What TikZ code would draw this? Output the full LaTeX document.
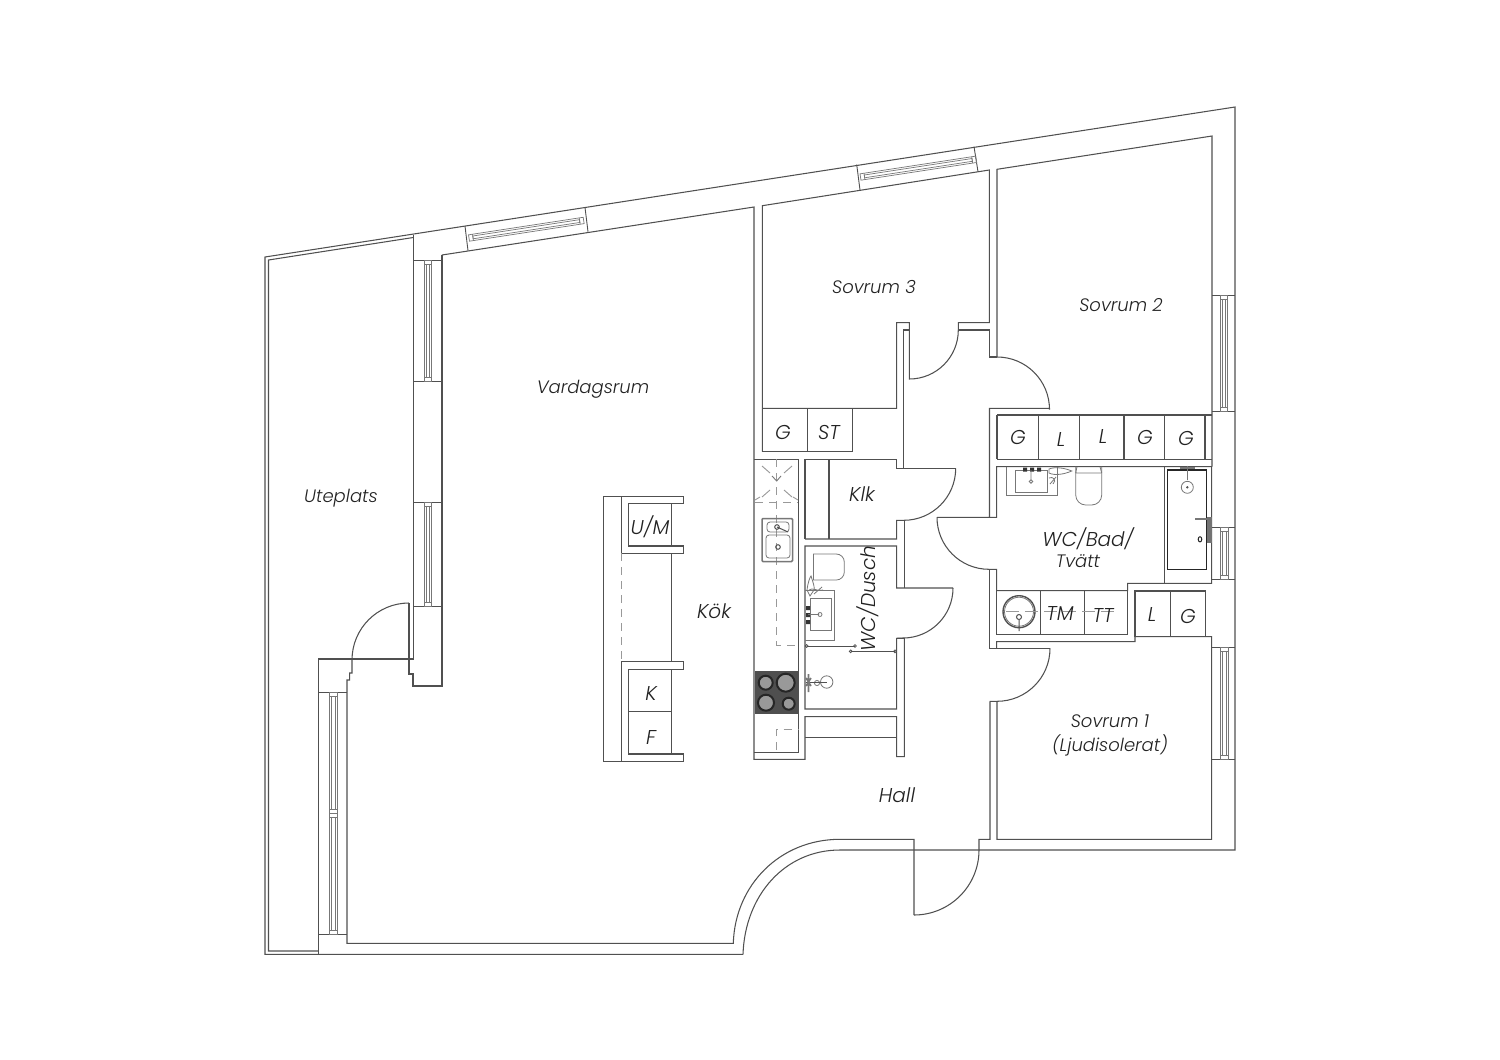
\documentclass[tikz,border=0pt]{standalone}
\usepackage{fontspec}
\setmainfont{Poppins}[ItalicFont={* Light Italic}]
\definecolor{wall}{HTML}{505050}
\definecolor{wallsoft}{HTML}{777777}
\definecolor{dash}{HTML}{999999}
\definecolor{hob}{HTML}{4F4F4F}
\definecolor{ink}{HTML}{222222}
\newcommand{\vwin}[4]{% x1 x2 ytop ybot
  \draw[glass] (#1,#3) rectangle (#2,#4);
  \draw[glass] (#1+2,#3+4) rectangle (#2-2,#4-4);
  \draw[glass] (#1,#3+4) -- (#2,#3+4) (#1,#4-4) -- (#2,#4-4);
}
\newcommand{\swin}[3]{% x y L
  \begin{scope}[shift={(#1,#2)},rotate=8.7]
    \draw[glass] (0,-3.2) rectangle (#3,3.2);
    \draw[glass] (4,-1.4) rectangle (#3-4,1.4);
    \draw[glass] (4,-3.2) -- (4,3.2) (#3-4,-3.2) -- (#3-4,3.2);
  \end{scope}
}
\begin{document}
\begin{tikzpicture}[x=1pt,y=-1pt,
  wl/.style={draw=wall,line width=1.05pt,line join=miter},
  thin wl/.style={draw=wall,line width=.9pt},
  glass/.style={draw=wallsoft,line width=.7pt},
  dsh/.style={draw=dash,line width=1pt,dash pattern=on 8pt off 6pt},
  fix/.style={draw=wallsoft,line width=.8pt},
  lbl/.style={text=ink,font=\itshape\fontsize{18}{20}\selectfont,inner sep=0pt,align=center,yshift=-1.5pt},
  lblb/.style={text=ink,font=\itshape\fontsize{20}{22}\selectfont,inner sep=0pt,align=center,yshift=-1.5pt}]
\useasboundingbox (0,0) rectangle (1500,1060);
\fill[white] (0,0) rectangle (1500,1060);
% outer building outline
\draw[wl] (743,954.3) -- (265,954.3) -- (265,257) -- (1235,107) -- (1235,850) -- (840,850)
  .. controls (785,850) and (745,895) .. (743,954.3);
% terrace parapet
\draw[wl] (318.3,951) -- (268.5,951) -- (268.5,260) -- (413.3,237.5);
% wall terrace / living
\draw[wl] (413.3,234.5) -- (413.3,659) -- (318.3,659) -- (318.3,954.3);
\draw[wl] (442,255) -- (442,686) -- (413,686) -- (413,674) -- (409,674) -- (409,603);
\draw[wl] (409,603) arc[start angle=270,end angle=180,radius=57] -- (352,673) -- (349.6,673) -- (349.6,680) -- (347,680) -- (347,943.3) -- (733.3,943.3)
  .. controls (735,885) and (780,839.3) .. (840,839.3) -- (914,839.3) -- (914,915);
\draw[wl] (914,915) arc[start angle=90,end angle=0,radius=65] -- (979,839.3) -- (990,839.3) -- (990,701.7);
% living top + wall to bedroom 3
\draw[wl] (442,255) -- (754,207) -- (754,759.3) -- (805,759.3) -- (805,716.7) -- (896.7,716.7) -- (896.7,756.7) -- (904.3,756.7) -- (904.3,638.3) -- (896.7,638.3) -- (896.7,709) -- (805,709) -- (805,546) -- (896.7,546) -- (896.7,588) -- (904.3,588) -- (953,588);
\draw[wl] (953,588) arc[start angle=0,end angle=90,radius=50] -- (896.7,638.3);
\draw[wl] (805,737.7) -- (896.7,737.7);
% Sovrum 3
\draw[wl] (762.3,451.7) -- (762.3,205.7) -- (989.3,170) -- (989.3,322.7) -- (958.3,322.7) -- (958.3,330);
\draw[wl] (958.3,330) -- (989.3,330) -- (989.3,357) -- (997,357);
\draw[wl] (958.3,330) arc[start angle=0,end angle=90,radius=49] -- (909.3,322.7) -- (896.7,322.7) -- (896.7,408.3) -- (762.3,408.3);
\draw[wl] (909.3,330) -- (903.8,330) -- (903.8,468.3);
\draw[wl] (762.3,451.7) -- (852.3,451.7) -- (852.3,408.3) (807.7,408.3) -- (807.7,451.7);
% Sovrum 2
\draw[wl] (997,357) -- (997,169.3) -- (1212,136) -- (1212,466.7);
\draw[wl] (997,357) arc[start angle=270,end angle=360,radius=52.5] -- (1049.5,408.3) -- (989.5,408.3) -- (989.5,517.3) -- (937,517.3);
\draw[wl] (937,517.3) arc[start angle=180,end angle=90,radius=52] -- (996.7,569.3) -- (996.7,590.7) -- (1127.7,590.7) -- (1127.7,583.3) -- (1211.7,583.3) -- (1211.7,466.7) -- (996.7,466.7) -- (996.7,517.3) -- (989.5,517.3);
\draw[wl] (989.3,569.3) -- (989.3,648.3) -- (1050,648.3);
\draw[wl] (1050,648.3) arc[start angle=0,end angle=90,radius=53] -- (989.5,701.3) (997,701.3) -- (997,839.3) -- (1211.7,839.3) -- (1211.7,636.7) -- (1135,636.7) -- (1135,641.7) -- (996.7,641.7) -- (996.7,648.3);
% Klk
\draw[wl] (805,539) -- (805,459.3) -- (896.7,459.3) -- (896.7,468.3) -- (955.7,468.3);
\draw[wl] (955.7,468.3) arc[start angle=0,end angle=90,radius=52] -- (896.7,520.3) -- (896.7,539) -- (805,539);
\draw[wl] (904.3,520.3) -- (904.3,588);
\draw[wl] (829,459.3) -- (829,539);
% kitchen counter
\draw[wl] (754,459.3) -- (798.3,459.3) -- (798.3,752.7) -- (754,752.7);
\draw[dsh] (776.7,459.3) -- (776.7,645) -- (798.3,645);
\draw[dsh] (755,502) -- (798,502);
\draw[dsh] (776.7,750) -- (776.7,729) -- (798.3,729);
\draw[draw=dash,line width=.9pt] (762,466) -- (770,473) (792,466) -- (784,473) (762,497) -- (770,490) (792,497) -- (784,490)
  (755,500) -- (760,497) (798,500) -- (793,497);
\draw[draw=wallsoft,line width=.9pt] (772,476) -- (776.7,481) -- (781,476);
% sink
\draw[draw=wallsoft,line width=1.5pt,rounded corners=1pt] (762,518.5) rectangle (792.5,561.5);
\draw[fix,rounded corners=3pt] (767,522) rectangle (789,532);
\draw[fix,rounded corners=3pt] (766,535) rectangle (790,558);
\draw[draw=wall,line width=1pt] (777,527) circle[radius=2.3] (778,547) circle[radius=2.3];
\draw[draw=wall,line width=1pt] (777,527) -- (788,532);
% hob
\fill[hob] (755,670.7) rectangle (798,714);
\foreach \cx/\cy/\cr in {765.7/682.7/7,785.7/682.7/9,766/702.7/8,788.7/703.7/6}
  \draw[draw=black!85,fill=black!40,line width=2pt] (\cx,\cy) circle[radius=\cr];
% WC/Dusch fixtures
\draw[fix,rounded corners=8pt] (813,554) -- (844.3,554) -- (844.3,580) -- (813,580);
\draw[fix] (813,554) -- (813,580);
\draw[fix] (805,590) -- (834,590) -- (834,640) -- (805,640);
\draw[fix] (810,598) rectangle (831.7,630.7);
\fill[black!80] (806,606) rectangle (810,610) (806,613) rectangle (810,617) (806,620) rectangle (810,624);
\draw[fix] (808,614.5) -- (819,614.5) (820,614.5) circle[radius=2];
\draw[fix] (810,596) -- (807,590) .. controls (808,582) and (810,577) .. (811,576) .. controls (813,582) and (815,588) .. (814,590) -- cycle;
\draw[fix] (809,590) .. controls (812,587) and (819,592) .. (823,590) (814,594) -- (822,587);
\draw[draw=wall,line width=.9pt] (806.7,646) -- (855,646) (850.7,651.3) -- (895,651.3);
\foreach \cx/\cy in {806.7/646,855/646,850.7/651.3,895/651.3}
  \draw[draw=wall,line width=.8pt] (\cx,\cy) circle[radius=1.4];
\draw[fix] (826.7,682) circle[radius=6.2] (817,683) circle[radius=2.6];
\draw[draw=wall,line width=.9pt] (806,682.5) -- (826.7,682.5);
\draw[draw=wallsoft,line width=1.6pt] (808.5,674) -- (808.5,692) (806,678) -- (811,686) (811,678) -- (806,686);
% wardrobes top row
\draw[wl] (997,415) -- (1211.7,415) (997,459.3) -- (1211.7,459.3) (997,415) -- (997,459.3);
\foreach \wx in {1038.3,1079.3,1124,1164.3,1205}
  \draw[wl] (\wx,415) -- (\wx,459.3);
% bath fixtures
\draw[fix] (1006,466.7) -- (1006,495) -- (1057.3,495) -- (1057.3,466.7);
\draw[fix] (1015,470.7) rectangle (1047.7,492.7);
\fill[black!80] (1023,467.5) rectangle (1027,471.5) (1030,467.5) rectangle (1034,471.5) (1037,467.5) rectangle (1041,471.5);
\draw[fix] (1031,470) -- (1031,480) (1031,481.5) circle[radius=1.8];
\draw[fix] (1049,469) .. controls (1055,466.5) and (1065,468) .. (1071.7,471) .. controls (1065,474) and (1055,476) .. (1049,473) -- cycle;
\draw[fix] (1049,478) .. controls (1053,476) and (1057,480) .. (1053,484) (1050,484) -- (1056,477);
\draw[fix,rounded corners=10pt] (1075.7,466.7) -- (1075.7,505) -- (1101.7,505) -- (1101.7,466.7);
\draw[fix] (1075.7,473) -- (1077,466.7) (1101.7,473) -- (1100,466.7) (1075.7,473) -- (1101.7,473);
\draw[wl] (1164.3,466.7) -- (1164.3,583.3);
\draw[draw=black!85,line width=1.2pt] (1167.3,470) rectangle (1206.7,569.3);
\draw[draw=wallsoft,line width=1.4pt] (1180,468) -- (1195,468) (1187.3,465.5) -- (1187.3,480);
\draw[fix] (1187.3,487.3) circle[radius=6];
\fill[wall] (1187.3,487.3) circle[radius=1.3];
\draw[draw=wallsoft,line width=1.8pt] (1195,519.3) -- (1208,519.3);
\fill[wall!80] (1207,516.7) rectangle (1212,542.7);
\draw[draw=black!85,line width=1pt] (1200,539.3) ellipse[x radius=1.8,y radius=2.6];
% lower bath row
\draw[wl] (996.7,591) -- (996.7,634.3) -- (1127.7,634.3) -- (1127.7,591);
\draw[wl] (1040.7,591) -- (1040.7,634.3) (1084.3,591) -- (1084.3,634.3);
\draw[wl] (1135,591) rectangle (1205.7,636.7);
\draw[wl] (1170.7,591) -- (1170.7,636.7);
\draw[draw=wall,line width=1.4pt] (1019,611.7) circle[radius=16];
\draw[fix] (1019,611.7) circle[radius=14.5];
\draw[draw=dash,line width=.8pt,dash pattern=on 13pt off 6pt] (1006,611.7) -- (1120,611.7);
\draw[draw=wall,line width=1pt] (1019,617) circle[radius=2.5] (1019,620) -- (1019,631);
% island
\draw[wl] (621.7,553.3) -- (683.3,553.3) -- (683.3,546) -- (628.3,546) -- (628.3,503.3) -- (683.3,503.3) -- (683.3,496.7) -- (603.3,496.7) -- (603.3,761.7) -- (683.3,761.7) -- (683.3,754) -- (628.3,754) -- (628.3,669.3) -- (683.3,669.3) -- (683.3,661.7) -- (621.7,661.7) -- (621.7,761.7);
\draw[wl] (621.7,496.7) -- (621.7,553.3);
\draw[dsh] (621.7,553.3) -- (621.7,661.7);
\draw[wl] (671.7,503.3) -- (671.7,546) (671.7,553.3) -- (671.7,661.7) (671.7,669.3) -- (671.7,754) (628.3,711.7) -- (671.7,711.7);
% window reveals
\draw[thin wl] (465,226) -- (468,250.7) (585,207.5) -- (588,231.7);
\draw[thin wl] (856.7,164.5) -- (860,190) (974,146.7) -- (978,171.7);
\draw[thin wl] (413.3,260) -- (442,260) (413.3,381.7) -- (442,381.7) (413.3,502.3) -- (442,502.3) (413.3,606.7) -- (442,606.7);
\draw[thin wl] (318.3,692) -- (347,692) (318.3,934) -- (347,934);
\draw[thin wl] (1212,295.7) -- (1235,295.7) (1212,411.7) -- (1235,411.7) (1211.7,527.3) -- (1235,527.3) (1211.7,579) -- (1235,579) (1211.7,647.3) -- (1235,647.3) (1211.7,759.3) -- (1235,759.3);
% windows
\swin{469}{238}{116}
\swin{860.5}{177}{117}
\vwin{424.3}{431.7}{260}{381.7}
\vwin{424.3}{431.7}{502.3}{606.7}
\vwin{329.3}{337.3}{692}{813.3}
\vwin{329.3}{337.3}{813.3}{934}
\vwin{1220}{1227.5}{295.7}{411.7}
\vwin{1220.5}{1228}{527.3}{579}
\vwin{1220.5}{1228}{647.3}{759.3}
% labels
\node[lbl] (uteplats) at (341,497) {Uteplats};
\node[lbl] (vardagsrum) at (593,388) {Vardagsrum};
\node[lbl] (sovrum3) at (874,286) {Sovrum 3};
\node[lbl] (sovrum2) at (1121,304) {Sovrum 2};
\node[lblb] (g1) at (783,431) {G};
\node[lblb] (st) at (829,431) {ST};
\node[lblb] (g2) at (1018,436) {G};
\node[lblb] (l1) at (1061,438) {L};
\node[lblb] (l2) at (1103,435) {L};
\node[lblb] (g3) at (1145,436) {G};
\node[lblb] (g4) at (1186,437) {G};
\node[lblb] (klk) at (862,493) {Klk};
\node[lblb] (um) at (650,525) {U/M};
\node[lblb] (kok) at (714,610) {Kök};
\node[lblb] (k) at (651,692) {K};
\node[lblb] (f) at (651,736) {F};
\node[lblb,rotate=90,yshift=1.5pt] (wcd) at (869,597) {WC/Dusch};
\node[lblb] (wcb) at (1088,537) {WC/Bad/};
\node[lbl] (tvatt) at (1078,560) {Tvätt};
\node[lblb] (tm) at (1060,612) {TM};
\node[lblb] (tt) at (1103,614) {TT};
\node[lblb] (l3) at (1152,613) {L};
\node[lblb] (g5) at (1188,615) {G};
\node[lbl] (sovrum1) at (1110,720) {Sovrum 1};
\node[lbl] (ljud) at (1110,744) {(Ljudisolerat)};
\node[lblb] (hall) at (897,794) {Hall};
\end{tikzpicture}
\end{document}
